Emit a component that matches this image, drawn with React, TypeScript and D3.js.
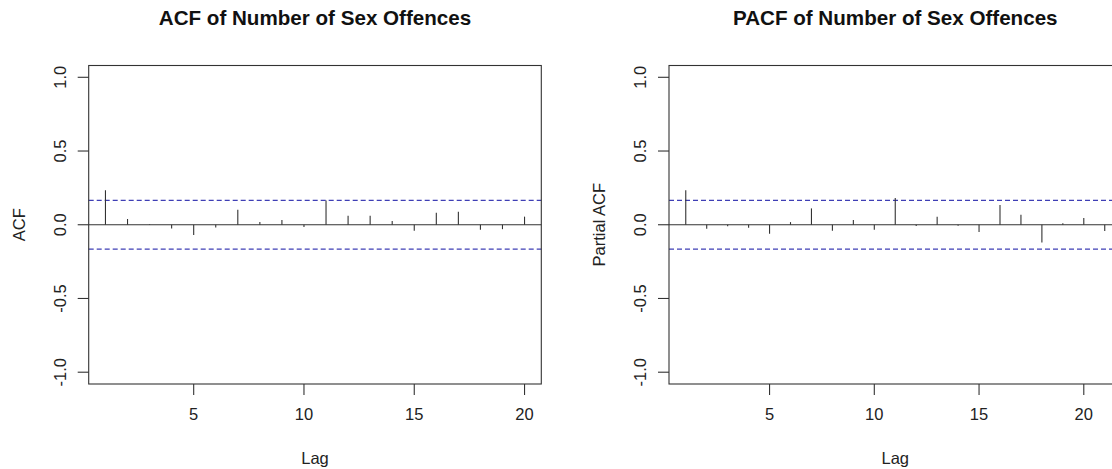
import React from "react";
import * as d3 from "d3";

const acfLags = [1, 2, 3, 4, 5, 6, 7, 8, 9, 10, 11, 12, 13, 14, 15, 16, 17, 18, 19, 20];
const acfValues = [0.234, 0.039, 0.003, -0.025, -0.07, -0.018, 0.102, 0.018, 0.032, -0.016, 0.164, 0.061, 0.061, 0.025, -0.041, 0.082, 0.089, -0.034, -0.03, 0.055];
const pacfLags = [1, 2, 3, 4, 5, 6, 7, 8, 9, 10, 11, 12, 13, 14, 15, 16, 17, 18, 19, 20, 21];
const pacfValues = [0.234, -0.027, -0.011, -0.02, -0.061, 0.018, 0.111, -0.041, 0.032, -0.034, 0.182, -0.009, 0.055, -0.007, -0.05, 0.134, 0.068, -0.12, 0.011, 0.045, -0.043];
const ciLevel = 0.165;
const xTicks = [5, 10, 15, 20];
const yTicks = [-1, -0.5, 0, 0.5, 1];

const FONT = "'Liberation Sans', Arial, Helvetica, sans-serif";

function Panel({ left, right, lags, values, title, ylab, ylabX }: any) {
  const n = lags.length;
  const ext = 0.04 * (lags[n - 1] - lags[0]);
  const x = d3.scaleLinear().domain([lags[0] - ext, lags[n - 1] + ext]).range([left, right]);
  const y = d3.scaleLinear().domain([-1.08, 1.08]).range([384, 65.5]);
  const top = y(1.08);
  const bottom = y(-1.08);
  const ink = "#333";
  return (
    <g>
      <text x={(left + right) / 2} y={25} textAnchor="middle" fontFamily={FONT} fontWeight="bold" fontSize={20.6} fill="#111">
        {title}
      </text>
      {/* zero line */}
      <line x1={left} x2={right} y1={y(0)} y2={y(0)} stroke={ink} strokeWidth={1.1} />
      {/* CI lines */}
      {[ciLevel, -ciLevel].map((c, i) => (
        <line key={i} x1={left} x2={right} y1={y(c)} y2={y(c)} stroke="#3f3fb5" strokeWidth={1.1} strokeDasharray="5,3" />
      ))}
      {/* bars */}
      {lags.map((l: number, i: number) => (
        <line key={l} x1={x(l)} x2={x(l)} y1={y(0)} y2={y(values[i])} stroke={ink} strokeWidth={1.1} />
      ))}
      {/* box */}
      <rect x={left} y={top} width={right - left} height={bottom - top} fill="none" stroke={ink} strokeWidth={1.1} />
      {/* y axis */}
      {yTicks.map((t) => (
        <g key={t}>
          <line x1={left - 11} x2={left} y1={y(t)} y2={y(t)} stroke={ink} strokeWidth={1.1} />
          <text transform={`translate(${left - 23},${y(t)}) rotate(-90)`} textAnchor="middle" fontFamily={FONT} fontSize={16.5} fill="#222">
            {d3.format(".1f")(t).replace("−", "-")}
          </text>
        </g>
      ))}
      {/* x axis */}
      {xTicks.map((t) => (
        <g key={t}>
          <line x1={x(t)} x2={x(t)} y1={bottom} y2={bottom + 11} stroke={ink} strokeWidth={1.1} />
          <text x={x(t)} y={420} textAnchor="middle" fontFamily={FONT} fontSize={16.5} fill="#222">
            {t}
          </text>
        </g>
      ))}
      <text x={(left + right) / 2} y={464} textAnchor="middle" fontFamily={FONT} fontSize={16.5} fill="#222">
        Lag
      </text>
      <text transform={`translate(${ylabX},${y(0)}) rotate(-90)`} textAnchor="middle" fontFamily={FONT} fontSize={16.5} fill="#222">
        {ylab}
      </text>
    </g>
  );
}

export default function App() {
  return (
    <svg width={1112} height={469} style={{ position: "absolute", left: 0, top: 0, background: "#fff" }}>
      <rect width={1112} height={469} fill="#fff" />
      <Panel left={88.7} right={541.3} lags={acfLags} values={acfValues} title="ACF of Number of Sex Offences" ylab="ACF" ylabX={25} />
      <Panel left={669} right={1121.5} lags={pacfLags} values={pacfValues} title="PACF of Number of Sex Offences" ylab="Partial ACF" ylabX={605} />
    </svg>
  );
}
